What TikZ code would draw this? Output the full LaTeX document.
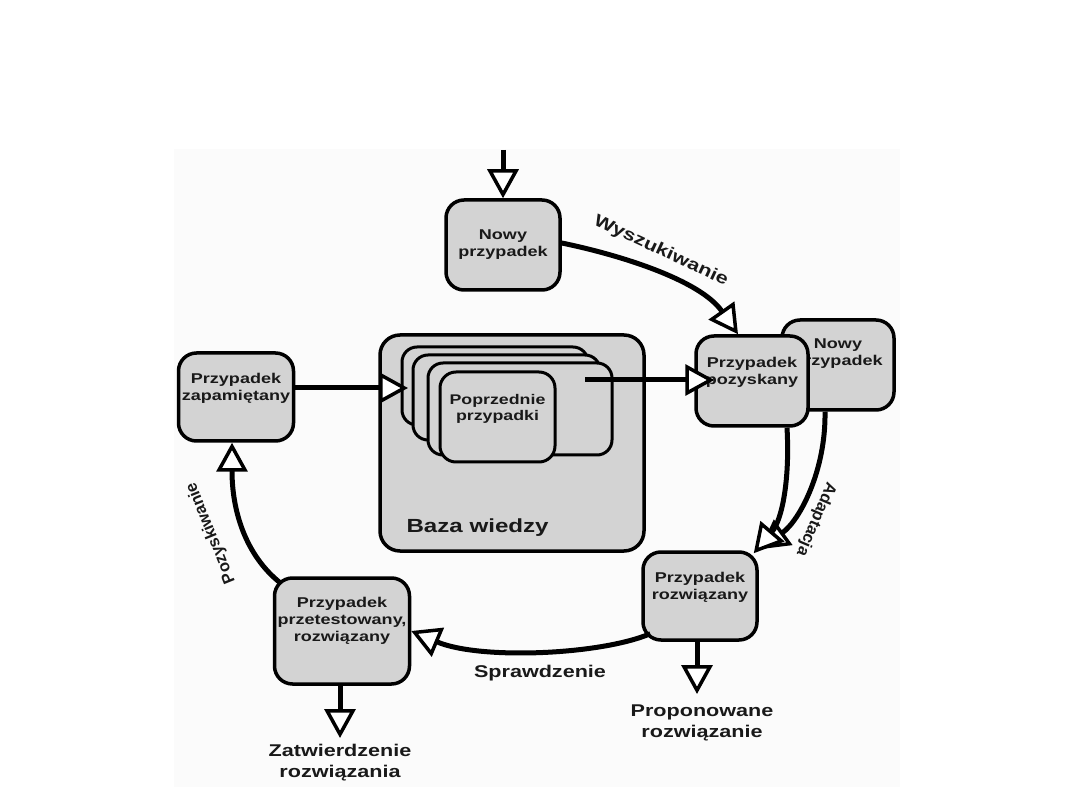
\documentclass[tikz,border=0pt]{standalone}
\usepackage{fontspec}
\setmainfont{Liberation Sans}
\newfontfamily\widesans[FakeStretch=1.27]{Liberation Sans}
\newfontfamily\plainsans{Liberation Sans}
\usetikzlibrary{arrows.meta}
\definecolor{boxgray}{RGB}{211,211,211}
\definecolor{bggray}{RGB}{251,251,251}
\definecolor{txt}{RGB}{25,25,25}
\begin{document}
\begin{tikzpicture}[x=1pt,y=-1pt,
  casebox/.style={draw=black, line width=3.5pt, fill=boxgray, rounded corners=18pt,
    inner sep=0pt, align=center, text=txt,
    font=\widesans\bfseries\fontsize{14.2}{17}\selectfont},
  card/.style={draw=black, line width=3pt, fill=boxgray, rounded corners=15pt, inner sep=0pt},
  flow/.style={line width=5pt, -{Triangle[length=29pt, width=31pt, fill=white, line width=3.5pt]}},
  outlabel/.style={font=\widesans\bfseries\fontsize{17}{21}\selectfont, text=txt, align=center},
  vlabel/.style={font=\plainsans\bfseries\fontsize{16.5}{20}\selectfont, text=txt},
]
\useasboundingbox (0,0) rectangle (1080,810);
\fill[white] (0,0) rectangle (1080,810);
\fill[bggray] (174,149) rectangle (900,787);

% knowledge base
\node[draw=black, line width=3.5pt, fill=boxgray, rounded corners=20pt,
  minimum width=264pt, minimum height=216pt, inner sep=0pt] (baza) at (512,443) {};
\node[anchor=west, font=\widesans\bfseries\fontsize{19}{22}\selectfont, text=txt] (bazalbl) at (403,528) {Baza wiedzy};
\node[card, minimum width=186pt, minimum height=78pt] (w1) at (495,386) {};
\node[card, minimum width=187pt, minimum height=85pt] (w2) at (506.5,397.5) {};
\node[card, minimum width=184pt, minimum height=92pt] (w3) at (520,409) {};
\node[casebox, rounded corners=16pt, line width=3pt, minimum width=115pt, minimum height=90pt,
  font=\widesans\bfseries\fontsize{14}{16}\selectfont] (prev) at (497.5,417) {Poprzednie\\przypadki\\[4pt]};

% case boxes
\node[casebox, minimum width=114pt, minimum height=90pt] (nowy) at (503,245) {Nowy\\przypadek};
\node[casebox, minimum width=112pt, minimum height=90pt] (nowy2) at (838,365) {Nowy\\przypadek\\[8pt]};
\node[casebox, minimum width=112pt, minimum height=90pt] (pozysk) at (752,381) {Przypadek\\pozyskany\\[4pt]};
\node[casebox, minimum width=115pt, minimum height=88pt] (zapam) at (236,397) {Przypadek\\zapamiętany\\[4pt]};
\node[casebox, minimum width=114pt, minimum height=88pt] (rozw) at (700,596) {Przypadek\\rozwiązany\\[4pt]};
\node[casebox, minimum width=135pt, minimum height=106pt] (przet) at (342,631) {Przypadek\\przetestowany,\\rozwiązany\\[6pt]};

% free ends
\coordinate (newin) at (503,150);
\coordinate (stackin) at (408,388);
\coordinate (stackout) at (585,380);
\coordinate (propo) at (697,694);
\coordinate (zatw) at (340,738);

% connectors
\draw[flow] (newin) -- (nowy.north);
\draw[flow] ([yshift=2pt]nowy.east) .. controls (620,255) and (700,280) .. ([xshift=-14pt]pozysk.north);
\draw[flow] (zapam.east |- stackin) -- (stackin);
\draw[flow] (stackout) -- ([xshift=20pt]pozysk.west |- stackout);
\draw[flow] ([xshift=-13pt]nowy2.south) .. controls (826,470) and (800,520) .. ([xshift=1pt,yshift=1pt]rozw.north east);
\draw[flow] ([xshift=35pt]pozysk.south) .. controls (790,480) and (782,520) .. ([xshift=-5pt,yshift=-3pt]rozw.north east);
\draw[flow] ([xshift=-3pt]rozw.south) -- (propo);
\draw[flow] ([xshift=9pt,yshift=8pt]rozw.south west) .. controls (600,655) and (480,660) .. (przet.east);
\draw[flow] ([xshift=-2pt]przet.south) -- (zatw);
\draw[flow] ([xshift=8pt,yshift=-7pt]przet.north west) .. controls (245,555) and (232,510) .. ([xshift=-4pt]zapam.south);

% labels
\node[outlabel, rotate=-25] (lwysz) at (661,251) {Wyszukiwanie};
\node[vlabel, rotate=-113] (ladapt) at (816,519) {Adaptacja};
\node[outlabel] (lspraw) at (540,673) {Sprawdzenie};
\node[vlabel, rotate=112] (lpozysk) at (211,533) {Pozyskiwanie};
\node[outlabel] (lpropo) at (702,723) {Proponowane\\rozwiązanie};
\node[outlabel] (lzatw) at (340,763) {Zatwierdzenie\\rozwiązania};
\end{tikzpicture}
\end{document}
